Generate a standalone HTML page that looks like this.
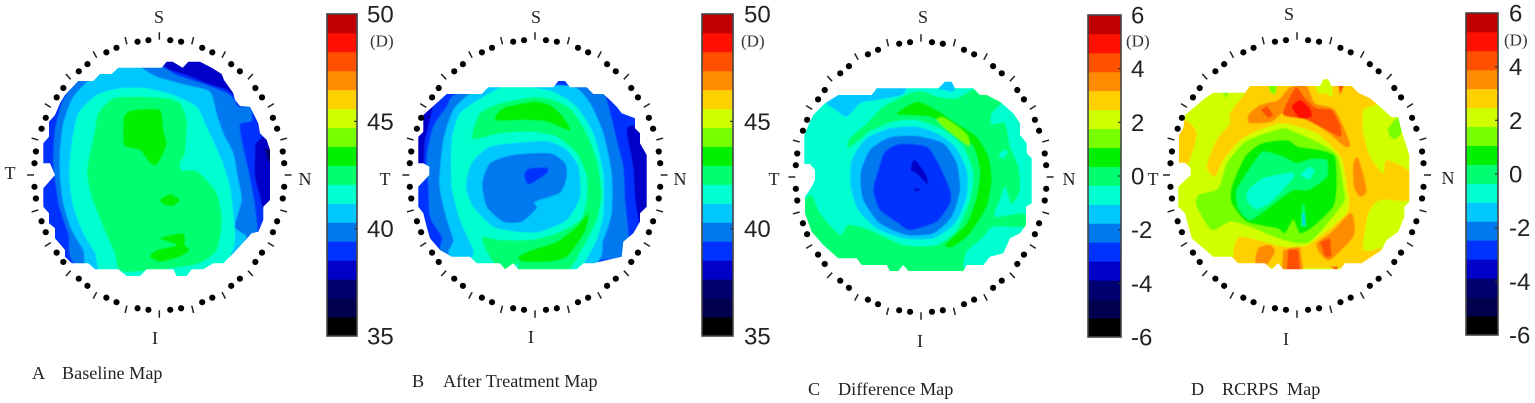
<!DOCTYPE html>
<html>
<head>
<meta charset="utf-8">
<title>Corneal maps</title>
<style>
html,body{margin:0;padding:0;background:#fff;width:1535px;height:403px;overflow:hidden}
svg{display:block}
.dir{font-family:"Liberation Serif",serif;font-size:18px;fill:#222;text-anchor:middle;dominant-baseline:central}
.cap{font-family:"Liberation Serif",serif;font-size:18.2px;fill:#222}
.unit{font-family:"Liberation Serif",serif;font-size:17px;fill:#333;dominant-baseline:central}
.bar-label{font-family:"Liberation Sans",sans-serif;font-size:24px;fill:#222;dominant-baseline:central}
</style>
</head>
<body>
<svg id="chart" width="1535" height="403" viewBox="0 0 1535 403" xmlns="http://www.w3.org/2000/svg">
<defs><filter id="soft" x="-5%" y="-5%" width="110%" height="110%"><feGaussianBlur stdDeviation="0.4"/></filter></defs>
<g id="layer"></g>
<g>
<text class="dir" x="159" y="17">S</text>
<text class="dir" x="155" y="338">I</text>
<text class="dir" x="10" y="173">T</text>
<text class="dir" x="305" y="179">N</text>
</g>
<g>
<text class="dir" x="536" y="17">S</text>
<text class="dir" x="531" y="337">I</text>
<text class="dir" x="385" y="179">T</text>
<text class="dir" x="680" y="179">N</text>
</g>
<g>
<text class="dir" x="923" y="17">S</text>
<text class="dir" x="920" y="341">I</text>
<text class="dir" x="774" y="179">T</text>
<text class="dir" x="1069" y="179">N</text>
</g>
<g>
<text class="dir" x="1289" y="14">S</text>
<text class="dir" x="1286" y="339">I</text>
<text class="dir" x="1153" y="179">T</text>
<text class="dir" x="1448" y="178">N</text>
</g>
<text class="cap" x="32" y="379">A</text>
<text class="cap" x="62" y="379">Baseline Map</text>
<text class="cap" x="412" y="387">B</text>
<text class="cap" x="443" y="387">After Treatment Map</text>
<text class="cap" x="808" y="395">C</text>
<text class="cap" x="838" y="395">Difference Map</text>
<text class="cap" x="1191" y="395">D</text>
<text class="cap" x="1222" y="395">RCRPS</text>
<text class="cap" x="1287" y="395">Map</text>
<text class="unit" x="370" y="41">(D)</text>
<text class="unit" x="741" y="41">(D)</text>
<text class="unit" x="1126" y="41">(D)</text>
<text class="unit" x="1504" y="40">(D)</text>
</svg>
<script>
// Colour bands of the scale, lowest value first
var bandColors = ['#000000','#00004f','#000070','#0000c8','#0033ff','#0078f0','#00c8ff','#00ffd0','#00ff70','#00f000','#78ff00','#d0ff00','#ffd000','#ff8c00','#ff5000','#ff1000','#c00000'];
var powerTicks = [50,45,40,35];
var differenceTicks = [6,4,2,0,-2,-4,-6];

// Map outlines and iso-power contours: position in map units (0.01 mm), value in dioptres
var outlineA = [[355,203],[485,203],[500,185],[518,185],[548,203],[565,185],[600,185],[635,203],[665,222],[672,240],[700,280],[705,300],[720,318],[750,320],[775,370],[780,400],[800,420],[810,450],[810,600],[790,620],[790,660],[775,695],[755,700],[700,760],[670,790],[640,790],[610,808],[575,808],[560,828],[530,828],[520,808],[440,808],[420,828],[380,828],[355,808],[285,808],[265,790],[215,790],[195,770],[195,750],[165,715],[165,685],[147,670],[147,640],[130,620],[130,565],[165,525],[150,490],[130,490],[130,430],[147,410],[147,365],[165,345],[180,310],[195,285],[235,243],[280,243],[300,222],[335,222]];
var contoursA = [
 [39.0,[[100,150],[900,150],[900,900],[100,900]]],
 [38.1,[[490,195],[500,175],[520,175],[548,195],[565,175],[600,175],[640,195],[680,235],[715,295],[680,270],[620,250],[560,225],[510,210]]],
 [38.1,[[768,430],[800,405],[820,440],[820,610],[790,625],[780,590],[765,530],[765,460]]],
 [37.2,[[795,448],[815,445],[815,490],[805,485]]],
 [39.9,[[240,240],[190,300],[165,390],[160,490],[165,540],[178,620],[205,700],[245,800],[700,800],[740,715],[772,697],[762,600],[745,510],[725,420],[720,372],[755,362],[750,320],[715,320],[690,285],[620,255],[530,225],[480,200],[330,200]]],
 [40.7,[[345,200],[280,230],[220,290],[190,370],[180,450],[180,530],[190,610],[215,690],[250,750],[285,815],[660,800],[690,770],[740,712],[705,680],[725,600],[715,540],[700,460],[670,400],[650,340],[630,275],[560,255],[470,230],[415,200]]],
 [41.6,[[360,265],[290,285],[235,340],[215,430],[208,530],[220,620],[250,700],[285,760],[300,815],[370,835],[570,835],[640,815],[690,770],[705,720],[700,640],[690,560],[665,480],[620,380],[590,320],[520,285],[440,265]]],
 [42.5,[[340,295],[295,340],[285,390],[262,510],[275,590],[310,680],[345,760],[370,815],[580,795],[650,750],[665,660],[650,580],[600,520],[570,510],[545,512],[540,490],[555,455],[560,360],[540,310],[500,295],[420,290]]],
 [43.4,[[372,350],[400,330],[480,330],[490,390],[500,430],[490,460],[470,495],[450,490],[420,450],[372,435]]],
 [43.4,[[480,600],[510,582],[540,600],[520,617],[495,615]]],
 [43.4,[[480,715],[550,700],[555,735],[568,750],[540,770],[480,785],[450,770],[470,750],[530,735]]]
];

var outlineB = [[190,282],[275,282],[295,262],[490,262],[505,243],[525,243],[540,262],[590,262],[610,282],[640,282],[660,300],[680,320],[695,340],[735,355],[735,385],[750,400],[750,430],[770,465],[770,620],[750,640],[750,665],[730,700],[700,725],[695,770],[610,790],[580,790],[560,808],[385,808],[370,790],[345,808],[330,790],[260,790],[240,770],[185,770],[150,750],[120,715],[110,680],[100,640],[85,620],[85,560],[118,525],[118,500],[100,490],[85,490],[85,410],[100,395],[100,345],[150,300],[170,282]];
var contoursB = [
 [39.0,[[50,200],[800,200],[800,850],[50,850]]],
 [38.1,[[80,400],[100,340],[130,315],[105,420],[100,495],[80,495]]],
 [38.1,[[740,380],[710,390],[730,500],[735,590],[750,670],[780,620],[780,460]]],
 [39.9,[[210,280],[170,320],[130,380],[110,470],[115,560],[120,650],[155,710],[185,775],[700,775],[715,700],[705,600],[700,500],[680,420],[660,335],[640,275],[590,258],[540,262],[525,256],[495,262]]],
 [40.7,[[240,280],[190,330],[160,420],[148,550],[165,640],[190,720],[195,775],[600,795],[640,720],[665,640],[665,520],[640,400],[600,310],[540,258],[290,258]]],
 [41.6,[[345,258],[280,290],[210,340],[185,420],[185,560],[210,660],[250,750],[260,795],[520,815],[570,805],[620,720],[640,640],[640,520],[610,400],[560,320],[490,275],[420,262]]],
 [42.5,[[430,292],[330,310],[270,340],[250,390],[250,418],[330,400],[420,395],[500,410],[560,460],[590,530],[590,600],[570,660],[500,700],[420,720],[330,720],[275,712],[305,780],[345,812],[385,790],[390,812],[530,812],[580,740],[620,660],[635,580],[620,480],[590,400],[545,330],[490,300]]],
 [43.4,[[345,322],[430,305],[480,315],[520,350],[540,392],[470,365],[400,360],[320,362],[318,345]]],
 [43.4,[[385,770],[420,752],[500,725],[560,680],[595,640],[590,680],[570,720],[530,770],[480,785],[400,785]]],
 [41.6,[[360,405],[280,420],[225,480],[220,570],[250,650],[320,712],[420,720],[500,700],[570,660],[590,600],[590,530],[560,460],[500,410],[420,395]]],
 [40.7,[[420,425],[300,440],[245,490],[228,560],[250,620],[310,680],[380,695],[450,695],[530,660],[570,590],[565,500],[530,450],[480,425]]],
 [39.9,[[480,460],[370,465],[300,490],[277,550],[290,620],[340,665],[395,665],[440,625],[435,605],[510,578],[530,530],[525,490]]],
 [39.0,[[403,520],[420,505],[472,503],[470,520],[425,550],[410,550]]]
];

var outlineC = [[205,285],[305,285],[320,265],[505,265],[525,245],[545,245],[555,265],[610,265],[630,285],[650,285],[690,305],[730,340],[750,370],[750,405],[770,430],[770,460],[785,475],[785,610],[768,620],[768,675],[750,700],[720,715],[700,760],[660,770],[640,795],[590,795],[580,813],[415,813],[400,795],[385,813],[360,813],[350,795],[275,795],[260,775],[205,775],[160,735],[125,695],[105,640],[105,590],[125,560],[135,540],[135,510],[120,492],[103,492],[103,405],[118,370],[130,345],[165,310]];
var contoursC = [
 [-0.71,[[60,200],[820,200],[820,850],[60,850]]],
 [-1.41,[[170,310],[205,280],[305,280],[320,260],[405,260],[395,285],[320,300],[270,310],[230,350],[190,325]]],
 [-1.41,[[505,270],[525,242],[545,242],[555,270],[540,275],[515,268]]],
 [0,[[235,445],[240,415],[290,370],[340,320],[420,280],[460,275],[500,290],[560,295],[610,268],[640,278],[695,305],[665,340],[665,372],[705,370],[720,440],[745,500],[750,570],[725,612],[705,560],[690,600],[675,650],[760,640],[775,680],[670,680],[640,710],[590,755],[580,800],[580,820],[350,820],[270,800],[200,780],[160,740],[120,700],[100,640],[100,605],[125,585],[150,640],[210,705],[235,675],[300,690],[400,735],[500,735],[560,690],[600,600],[610,520],[580,440],[520,390],[440,360],[370,365],[300,395]]],
 [-0.71,[[685,465],[705,448],[715,455],[700,478]]],
 [0.71,[[380,342],[440,305],[500,330],[560,370],[620,410],[655,470],[665,540],[650,620],[600,700],[550,740],[525,735],[590,670],[620,590],[630,510],[610,440],[560,390],[480,350]]],
 [1.41,[[500,358],[520,352],[570,385],[595,410],[598,438],[570,420],[520,380]]],
 [-0.71,[[440,365],[360,372],[290,400],[245,470],[240,550],[265,630],[320,690],[400,720],[490,725],[560,680],[595,600],[600,520],[570,440],[510,395]]],
 [-1.41,[[440,380],[360,385],[290,415],[245,480],[242,560],[265,630],[320,685],[400,715],[490,715],[555,670],[590,590],[590,510],[555,440],[500,400]]],
 [-2.12,[[440,408],[360,412],[300,450],[272,520],[280,600],[330,670],[410,705],[490,700],[545,650],[570,570],[560,490],[520,430]]],
 [-2.82,[[390,432],[345,455],[325,510],[310,570],[330,630],[385,670],[420,690],[500,665],[540,610],[540,570],[505,490],[470,440]]],
 [-3.53,[[430,480],[445,490],[470,530],[472,552],[440,520],[422,510]]],
 [-3.53,[[428,565],[455,567],[440,575]]]
];

var outlineD = [[105,345],[165,295],[190,278],[285,278],[300,258],[510,258],[520,238],[535,238],[545,258],[605,258],[625,278],[660,295],[690,320],[725,352],[745,352],[755,395],[778,465],[778,605],[763,620],[763,650],[745,695],[710,720],[695,750],[635,790],[585,790],[570,808],[400,808],[385,790],[365,808],[345,790],[265,790],[245,770],[190,770],[125,715],[105,640],[85,620],[85,560],[122,525],[122,505],[105,488],[87,488],[87,405],[100,385]];
var contoursD = [
 [2.12,[[50,200],[820,200],[820,850],[50,850]]],
 [2.82,[[105,360],[140,400],[115,490],[85,490],[85,410]]],
 [2.82,[[300,250],[610,250],[680,310],[640,330],[640,400],[660,470],[700,520],[710,480],[785,520],[785,600],[690,600],[655,640],[640,750],[695,745],[635,800],[285,800],[250,770],[270,710],[400,740],[480,730],[590,640],[590,580],[570,470],[500,400],[400,370],[330,390],[270,420],[220,480],[195,530],[170,500],[200,420],[240,370],[240,340],[285,280]]],
 [3.53,[[295,345],[330,315],[385,300],[420,262],[470,258],[495,310],[555,330],[600,430],[585,440],[530,395],[470,360],[400,340],[365,365],[300,370]]],
 [3.53,[[610,490],[625,475],[650,570],[630,590],[612,560]]],
 [3.53,[[500,730],[540,700],[600,640],[612,660],[610,710],[540,780],[510,760]]],
 [3.53,[[315,795],[325,745],[360,735],[375,755],[345,800]]],
 [3.53,[[395,812],[400,750],[450,738],[460,812]]],
 [2.12,[[495,250],[540,235],[548,290],[525,280],[505,280]]],
 [1.41,[[355,255],[382,255],[375,285],[360,275]]],
 [1.41,[[215,275],[235,275],[230,295]]],
 [1.41,[[715,385],[745,352],[755,395],[735,418],[718,405]]],
 [4.24,[[400,345],[415,300],[440,262],[465,295],[500,325],[545,330],[570,375],[572,410],[520,385],[465,358]]],
 [4.24,[[332,330],[352,318],[370,345],[355,355]]],
 [4.24,[[410,812],[415,748],[445,750],[450,812]]],
 [4.24,[[510,725],[540,715],[545,770],[525,770]]],
 [4.24,[[540,800],[565,800],[560,812]]],
 [4.24,[[565,255],[582,255],[570,285]]],
 [4.94,[[425,320],[450,300],[480,325],[485,350],[450,355]]],
 [2.12,[[400,375],[330,395],[270,425],[225,490],[200,560],[140,595],[140,640],[190,698],[300,692],[400,737],[480,732],[592,620],[592,570],[572,470],[500,410],[440,385]]],
 [1.41,[[400,385],[330,405],[280,430],[230,490],[205,565],[145,585],[140,620],[185,690],[240,665],[300,680],[400,720],[480,725],[580,610],[580,560],[560,465],[490,420],[420,390]]],
 [0.71,[[410,420],[335,430],[285,470],[245,560],[245,610],[290,665],[380,685],[405,700],[430,660],[450,700],[490,680],[550,620],[560,560],[555,470],[510,450],[445,440]]],
 [0,[[340,455],[310,490],[260,570],[265,625],[300,660],[360,620],[430,570],[475,570],[530,530],[530,480],[480,478],[440,490],[400,470]]],
 [0,[[456,620],[462,610],[470,680],[452,680]]],
 [-0.71,[[340,535],[295,570],[290,600],[320,628],[370,600],[432,530],[420,518]]],
 [-0.71,[[450,525],[475,500],[495,510],[478,540]]],
 [-1.41,[[458,640],[463,640],[465,675],[458,675]]]
];

var panelIds = ['a','b','c','d'];
var panelLefts = [0,390,770,1150];
var ringCentersX = [478,435,453,441];
var ringCentersY = [525,525,531,525];
var ringRadiiX = [376,377,377,381];
var ringRadiiY = [406,406,406,406];
var outlines = [outlineA,outlineB,outlineC,outlineD];
var contours = [contoursA,contoursB,contoursC,contoursD];
var barLefts = [327,702,1088,1466];
var barTops = [14,14,15,13];
var barWidths = [30,31,33,32];
var barHeight = 322;
var barLabelLefts = [367,744,1131,1509];
var barMins = [35,35,-6,-6];
var barMaxs = [50,50,6,6];
var barTicks = [powerTicks,powerTicks,differenceTicks,differenceTicks];

var NS = 'http://www.w3.org/2000/svg';
var layer = document.getElementById('layer');
function make(tag,attrs,parent){var e=document.createElementNS(NS,tag);for(var k in attrs){e.setAttribute(k,attrs[k]);}parent.appendChild(e);return e;}
function colorOf(v,i){var idx=Math.floor((v-barMins[i])/(barMaxs[i]-barMins[i])*bandColors.length);return bandColors[Math.max(0,Math.min(bandColors.length-1,idx))];}
function xScale(v,i){return panelLefts[i]+v/3;}
function yScale(v,i){return v/3;}
function polyPath(points,i){return 'M'+points.map(function(p){return xScale(p[0],i).toFixed(1)+' '+yScale(p[1],i).toFixed(1);}).join('L')+'Z';}
function smoothPath(points,i){
 var n=points.length,d='',P=points.map(function(p){return [xScale(p[0],i),yScale(p[1],i)];});
 if(n<5){return polyPath(points,i);}
 d='M'+P[0][0].toFixed(1)+' '+P[0][1].toFixed(1);
 for(var k=0;k<n;k++){
  var p0=P[(k-1+n)%n],p1=P[k],p2=P[(k+1)%n],p3=P[(k+2)%n],t=0.11;
  d+='C'+(p1[0]+(p2[0]-p0[0])*t).toFixed(1)+' '+(p1[1]+(p2[1]-p0[1])*t).toFixed(1)+' '+(p2[0]-(p3[0]-p1[0])*t).toFixed(1)+' '+(p2[1]-(p3[1]-p1[1])*t).toFixed(1)+' '+p2[0].toFixed(1)+' '+p2[1].toFixed(1);
 }
 return d+'Z';
}

panelIds.forEach(function(id,i){
 var defs=document.querySelector('defs');
 var clip=make('clipPath',{id:'clip-'+id},defs);
 make('path',{d:polyPath(outlines[i],i)},clip);
 var map=make('g',{'clip-path':'url(#clip-'+id+')'},layer);
 
 
 var soft=make('g',{filter:'url(#soft)'},map);
 contours[i].forEach(function(c){
  var band=make('path',{d:smoothPath(c[1],i),fill:colorOf(c[0],i)},soft);
  
  
 });

 var ring=make('g',{},layer);
 
 
 var cx=ringCentersX[i],cy=ringCentersY[i],rx=ringRadiiX[i],ry=ringRadiiY[i];
 for(var a=0;a<360;a+=5){
  var t=a*Math.PI/180,s=Math.sin(t),co=Math.cos(t);
  if(a%15===0){
   var tick=make('line',{x1:xScale(cx+rx*s,i),y1:yScale(cy-ry*co,i),x2:xScale(cx+rx*1.055*s,i),y2:yScale(cy-ry*1.055*co,i),stroke:'#222','stroke-width':1.5},ring);
   
   
  }else{
   var dot=make('circle',{cx:xScale(cx+rx*s,i),cy:yScale(cy-ry*co,i),r:3.1,fill:'#000'},ring);
   
   
  }
 }

 var bar=make('g',{},layer);
 
 
 var L=barLefts[i],T=barTops[i],W=barWidths[i],bh=barHeight/bandColors.length;
 var valueY=function(v){return T+(barMaxs[i]-v)/(barMaxs[i]-barMins[i])*barHeight;};
 bandColors.forEach(function(col,k){
  var seg=make('rect',{x:L,y:T+barHeight-(k+1)*bh,width:W,height:bh+0.4,fill:col},bar);
  
  
 });
 var frame=make('rect',{x:L,y:T,width:W,height:barHeight,fill:'none',stroke:'#444','stroke-width':1.6},bar);
 
 
 barTicks[i].forEach(function(v){
  var y=valueY(v);
  if(v!==barMaxs[i]&&v!==barMins[i]){
   var mark=make('line',{x1:L+W-3,y1:y,x2:L+W,y2:y,stroke:'#333','stroke-width':1.2},bar);
   
   
  }
  var label=make('text',{'class':'bar-label',x:barLabelLefts[i],y:y+1},bar);
  label.textContent=String(v);
  
  
 });
});
</script>
</body>
</html>
